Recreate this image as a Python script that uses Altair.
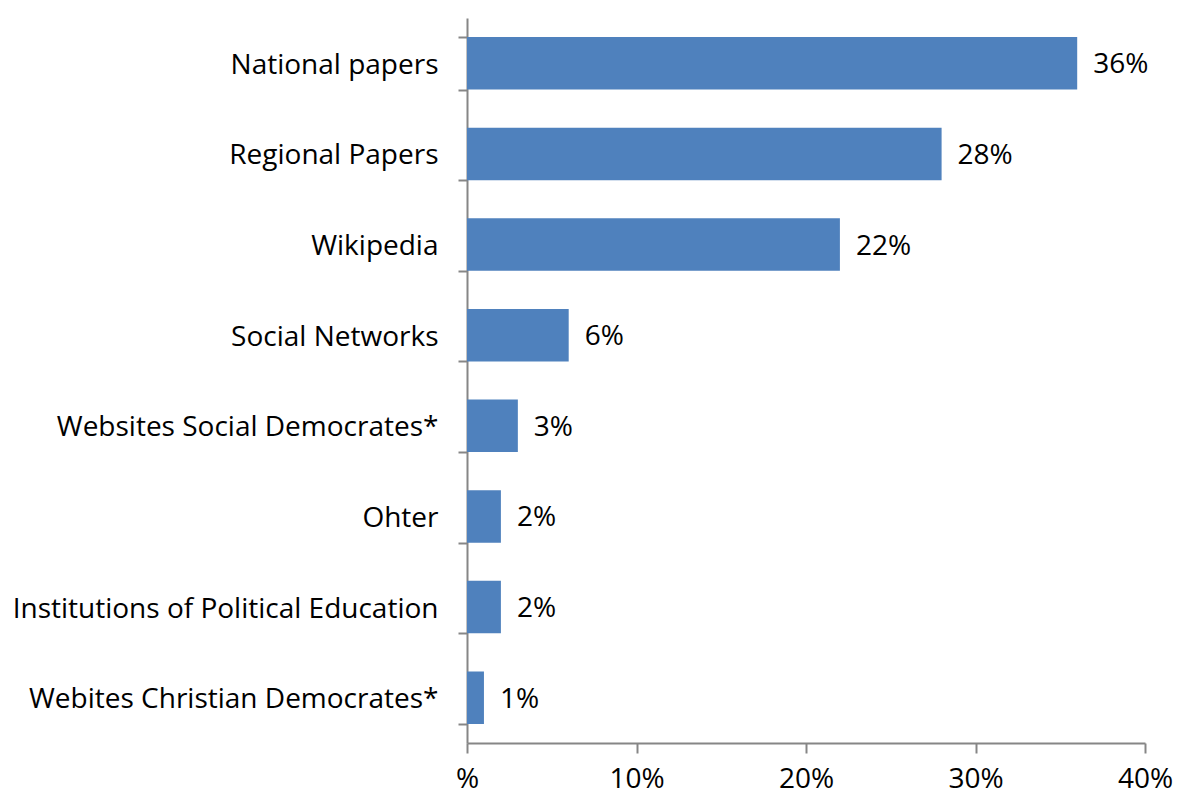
import altair as alt
import pandas as pd

categories = [
    "National papers",
    "Regional Papers",
    "Wikipedia",
    "Social Networks",
    "Websites Social Democrates*",
    "Ohter",
    "Institutions of Political Education",
    "Webites Christian Democrates*",
]
values = [36, 28, 22, 6, 3, 2, 2, 1]
labels = [f"{v}%" for v in values]

df = pd.DataFrame({"cat": categories, "val": values, "lab": labels})

FONT = "Open Sans"
AXC = "#868686"

y = alt.Y(
    "cat:N",
    sort=categories,
    title=None,
    scale=alt.Scale(paddingInner=0.42, paddingOuter=0.21),
    axis=alt.Axis(
        tickBand="extent",
        tickSize=9,
        tickColor=AXC,
        tickWidth=2,
        domainColor=AXC,
        domainWidth=2,
        labelFont=FONT,
        labelFontSize=28,
        labelColor="black",
        labelPadding=20,
        labelOffset=2,
        labelLimit=500,
        grid=False,
    ),
)

x = alt.X(
    "val:Q",
    title=None,
    scale=alt.Scale(domain=[0, 40], nice=False),
    axis=alt.Axis(
        values=[0, 10, 20, 30, 40],
        labelExpr="datum.value == 0 ? '%' : datum.value + '%'",
        grid=False,
        tickSize=10,
        tickColor=AXC,
        tickWidth=2,
        domainColor=AXC,
        domainWidth=2,
        labelFont=FONT,
        labelFontSize=28,
        labelColor="black",
        labelPadding=12,
        labelFlush=False,
    ),
)

bars = alt.Chart(df).mark_bar(color="#4F81BD").encode(x=x, y=y)
text = alt.Chart(df).mark_text(
    align="left", baseline="middle", dx=16, dy=2, font=FONT, fontSize=28, color="black"
).encode(
    x="val:Q",
    y=alt.Y("cat:N", sort=categories),
    text="lab:N",
)

chart = (
    alt.layer(bars, text)
    .properties(
        width=678,
        height=725,
        background="white",
        autosize=alt.AutoSizeParams(type="none"),
        padding={"left": 467, "top": 18, "right": 32, "bottom": 54},
    )
    .configure_view(stroke=None)
    .configure_axis(grid=False)
)

chart.save("out.html", embed_options={"renderer": "svg", "actions": False})
